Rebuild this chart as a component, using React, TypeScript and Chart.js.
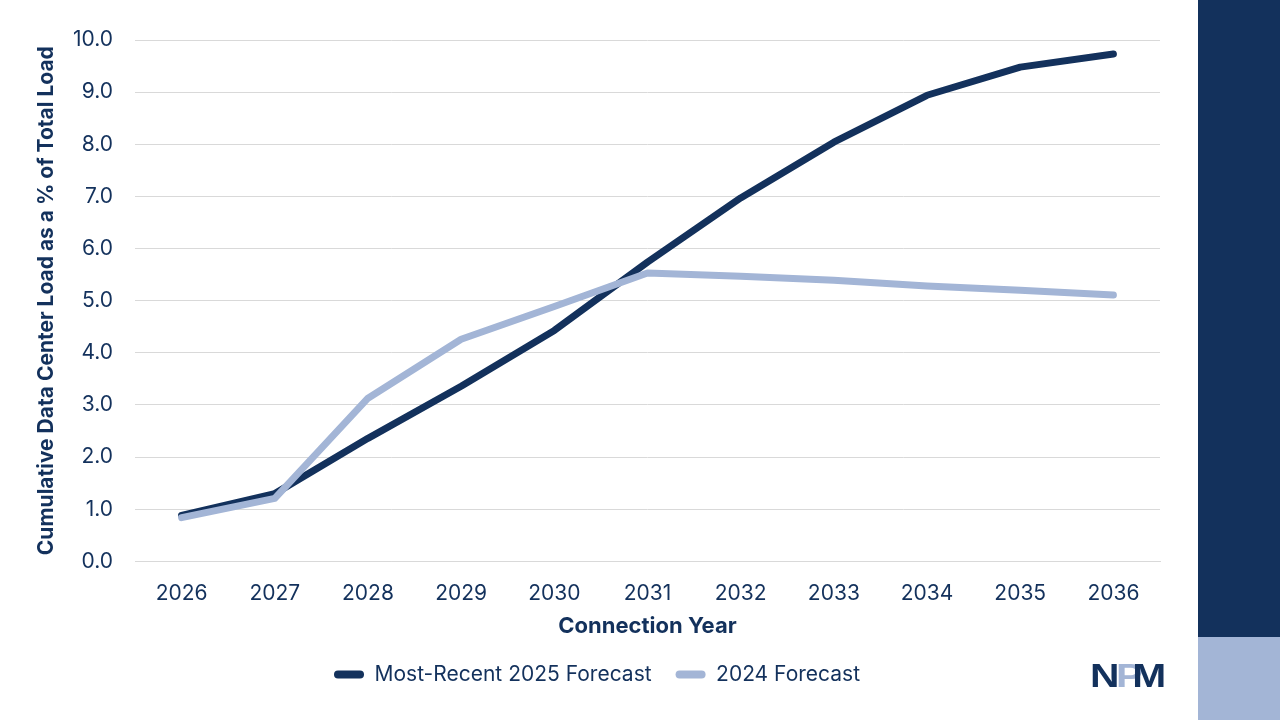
import React, { useEffect, useRef } from "react";
import { Chart, registerables } from "chart.js";

Chart.register(...registerables);

const years = ["2026", "2027", "2028", "2029", "2030", "2031", "2032", "2033", "2034", "2035", "2036"];
const recent2025 = [0.88, 1.3, 2.36, 3.36, 4.43, 5.74, 6.97, 8.04, 8.94, 9.48, 9.73];
const forecast2024 = [0.84, 1.21, 3.13, 4.26, 4.89, 5.53, 5.47, 5.39, 5.28, 5.2, 5.11];

const NAVY = "#13315c";
const LIGHT = "#a3b5d6";
const FONT = "Inter, 'Open Sans', sans-serif";

export default function App() {
  const ref = useRef<HTMLCanvasElement | null>(null);
  useEffect(() => {
    if (!ref.current) return;
    const chart = new Chart(ref.current, {
      type: "line",
      data: {
        labels: years,
        datasets: [
          {
            label: "Most-Recent 2025 Forecast",
            data: recent2025,
            borderColor: NAVY,
            backgroundColor: NAVY,
            borderWidth: 7,
            pointRadius: 0,
            tension: 0,
            borderCapStyle: "round",
            borderJoinStyle: "round",
            order: 1,
          },
          {
            label: "2024 Forecast",
            data: forecast2024,
            borderColor: LIGHT,
            backgroundColor: LIGHT,
            borderWidth: 7,
            pointRadius: 0,
            tension: 0,
            borderCapStyle: "round",
            borderJoinStyle: "round",
            order: 0,
          },
        ],
      },
      options: {
        animation: false,
        responsive: false,
        maintainAspectRatio: false,
        layout: { padding: { top: 40, left: 34, right: 32, bottom: 25 } },
        plugins: {
          tooltip: { enabled: false },
          legend: {
            position: "bottom",
            labels: {
              color: NAVY,
              font: { family: FONT, size: 21 },
              boxWidth: 30,
              boxHeight: 8,
              useBorderRadius: true,
              borderRadius: 4,
              padding: 24,
              sort: (a: any, b: any) => a.datasetIndex - b.datasetIndex,
              generateLabels: (c: any) =>
                Chart.defaults.plugins.legend.labels.generateLabels(c).map((l: any) => ({ ...l, lineWidth: 0 })),
            },
          },
        },
        scales: {
          x: {
            offset: true,
            grid: { display: false },
            border: { display: true, color: "#d9d9d9" },
            ticks: { color: NAVY, font: { family: FONT, size: 21 }, padding: 12 },
            title: {
              display: true,
              text: "Connection Year",
              color: NAVY,
              font: { family: FONT, size: 22, weight: "bold" },
              padding: { top: -5, bottom: 0 },
            },
          },
          y: {
            min: 0,
            max: 10,
            afterFit: (scale: any) => {
              scale.width = 101;
            },
            grid: { color: "#d9d9d9", lineWidth: 1, drawTicks: false },
            border: { display: false },
            ticks: {
              stepSize: 1,
              color: NAVY,
              font: { family: FONT, size: 21 },
              padding: 22,
              callback: (v: any) => Number(v).toFixed(1),
            },
            title: {
              display: true,
              text: "Cumulative Data Center Load as a % of Total Load",
              color: NAVY,
              font: { family: FONT, size: 21, weight: "bold" },
              padding: { top: 0, bottom: 0 },
            },
          },
        },
      },
    });
    return () => chart.destroy();
  }, []);

  return (
    <div style={{ position: "fixed", left: 0, top: 0, width: 1280, height: 720, background: "#fff", overflow: "hidden" }}>
      <canvas ref={ref} width={1192} height={720} style={{ position: "absolute", left: 0, top: 0, width: 1192, height: 720 }} />
      <div style={{ position: "absolute", left: 1198, top: 0, width: 82, height: 637, background: NAVY }} />
      <div style={{ position: "absolute", left: 1198, top: 637, width: 82, height: 83, background: LIGHT }} />
      <div
        style={{
          position: "absolute",
          left: 1090,
          top: 657,
          fontFamily: "Arial, 'Liberation Sans', sans-serif",
          fontWeight: 900,
          fontSize: 34,
          letterSpacing: -3,
          lineHeight: "36px",
          transform: "scaleX(1.2)",
          transformOrigin: "left",
        }}
      >
        <span style={{ color: NAVY }}>N</span>
        <span style={{ color: LIGHT }}>P</span>
        <span style={{ color: NAVY, marginLeft: -6 }}>M</span>
      </div>
    </div>
  );
}
